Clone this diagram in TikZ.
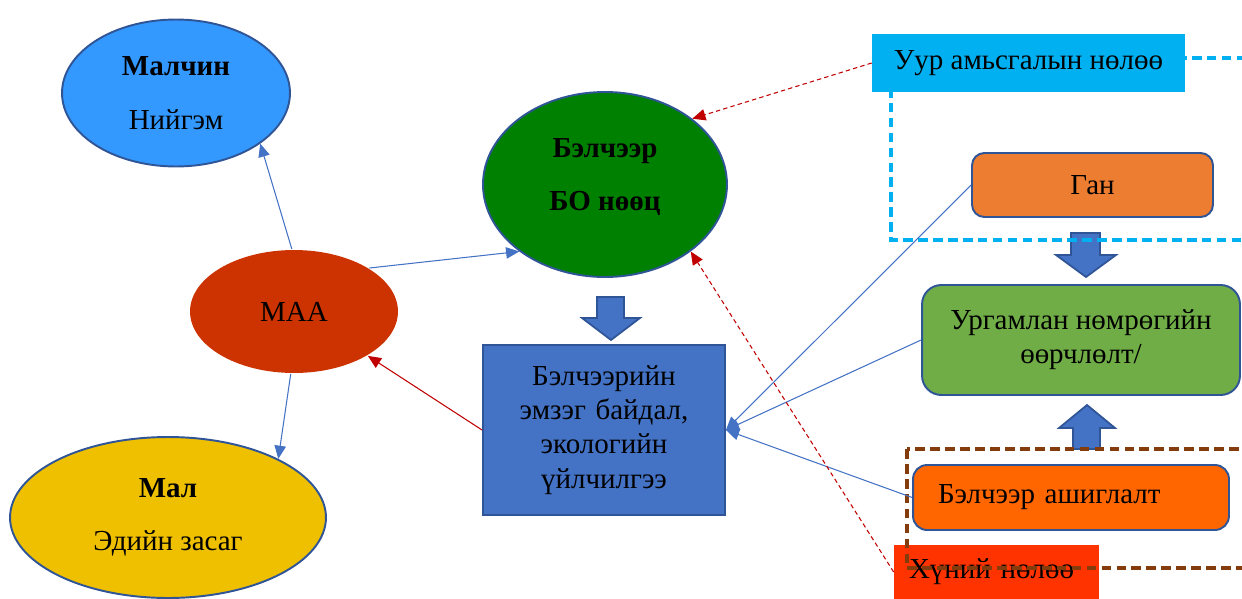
\documentclass[tikz,border=0pt]{standalone}
\usepackage{fontspec}
\setmainfont{Liberation Serif}
\usetikzlibrary{arrows.meta,shapes.geometric}
\usepackage{xcolor}
\definecolor{edgecol}{HTML}{2F5597}
\definecolor{linkcol}{HTML}{4472C4}
\definecolor{redcol}{HTML}{C00000}
\definecolor{herdcol}{HTML}{3399FF}
\definecolor{pastcol}{HTML}{008000}
\definecolor{maacol}{HTML}{CC3300}
\definecolor{livecol}{HTML}{EEC000}
\definecolor{climcol}{HTML}{00B0F0}
\definecolor{gancol}{HTML}{ED7D31}
\definecolor{plantcol}{HTML}{70AD47}
\definecolor{usecol}{HTML}{FF6600}
\definecolor{humcol}{HTML}{FF3300}
\definecolor{zonecol}{HTML}{843C0C}

\begin{document}
\begin{tikzpicture}[x=0.02cm, y=-0.02cm,
  font=\fontsize{16.5}{19.5}\selectfont,
  ell/.style={ellipse, draw=edgecol, line width=1.1pt, inner sep=0pt, align=center},
  box/.style={draw=edgecol, line width=1.1pt, inner sep=0pt, align=center},
  flat/.style={inner sep=0pt},
  conn/.style={-{Triangle[length=7.5pt,width=6.5pt]}, draw=linkcol, line width=0.6pt},
  rconn/.style={conn, draw=redcol},
  dconn/.style={rconn, dash pattern=on 2.5pt off 1.8pt},
  barrow/.style={fill=linkcol, draw=edgecol, line width=1pt},
  zone/.style={dash pattern=on 5.5pt off 3pt}]
  \clip (0,0) rectangle (1242,599);
  % left side
  \node[ell, fill=herdcol, minimum width=4.56cm, minimum height=2.94cm] (herder) at (176,93)
    {\textbf{Малчин}\\[11pt]Нийгэм};
  \node[ell, fill=maacol, draw=none, minimum width=4.16cm, minimum height=2.46cm] (maa) at (294,311.5) {МАА};
  \node[ell, fill=livecol, minimum width=6.32cm, minimum height=3.22cm] (stock) at (168,517.5)
    {\textbf{Мал}\\[11pt]Эдийн засаг};
  % middle
  \node[ell, fill=pastcol, minimum width=4.88cm, minimum height=3.70cm] (pasture) at (605,184.5) {};
  \node[flat, align=center] (pastxt) at (605,177) {\textbf{Бэлчээр}\\[11pt]\textbf{БО нөөц}};
  \node[box, fill=linkcol, minimum width=4.84cm, minimum height=3.40cm, text width=4.4cm] (state) at (604,430)
    {Бэлчээрийн\\эмзэг байдал,\\экологийн\\үйлчилгээ};
  \draw[barrow] (597,297) -- (624,297) -- (624,318) -- (640,318) -- (611,340) -- (582,318) -- (597,318) -- cycle;
  % right side
  \draw[barrow] (1071,233) -- (1100,233) -- (1100,255) -- (1116,255) -- (1086,277) -- (1056,255) -- (1071,255) -- cycle;
  \draw[zone, draw=climcol, line width=2pt] (891,58) rectangle (1260,240);
  \node[flat, fill=climcol, minimum width=6.26cm, minimum height=1.16cm] (climate) at (1028.5,63) {Уур амьсгалын нөлөө};
  \node[box, fill=gancol, rounded corners=7pt, minimum width=4.82cm, minimum height=1.28cm] (drought) at (1092.5,185) {Ган};
  \node[box, fill=plantcol, rounded corners=11pt, minimum width=6.36cm, minimum height=2.20cm] (cover) at (1081,340)
    {Ургамлан нөмрөгийн\\өөрчлөлт/};
  \draw[barrow] (1073,449) -- (1100,449) -- (1100,428) -- (1115,428) -- (1087,405) -- (1059,428) -- (1073,428) -- cycle;
  \node[box, fill=usecol, rounded corners=8pt, minimum width=6.32cm, minimum height=1.30cm, text width=5.32cm, align=left] (use) at (1071,497.5)
    {Бэлчээр ашиглалт};
  \node[flat, fill=humcol, minimum width=4.10cm, minimum height=1.08cm, text width=3.5cm, align=left] (human) at (996.5,572)
    {Хүний нөлөө};
  \draw[zone, draw=zonecol, line width=1.8pt] (907,449) rectangle (1260,568);
  % connectors
  \draw[conn] (maa.92) -- (herder.-31);
  \draw[conn] (maa.-93) -- (stock.28);
  \draw[conn] (maa.30) -- (pasture.218);
  \draw[rconn] (state.west) -- (maa.-31);
  \draw[conn] (drought.west) -- (state.east);
  \draw[conn] (cover.west) -- (state.east);
  \draw[conn] (use.west) -- (state.east);
  \draw[dconn] (climate.west) -- (pasture.37);
  \draw[dconn] (human.west) -- (pasture.-38);
\end{tikzpicture}
\end{document}
